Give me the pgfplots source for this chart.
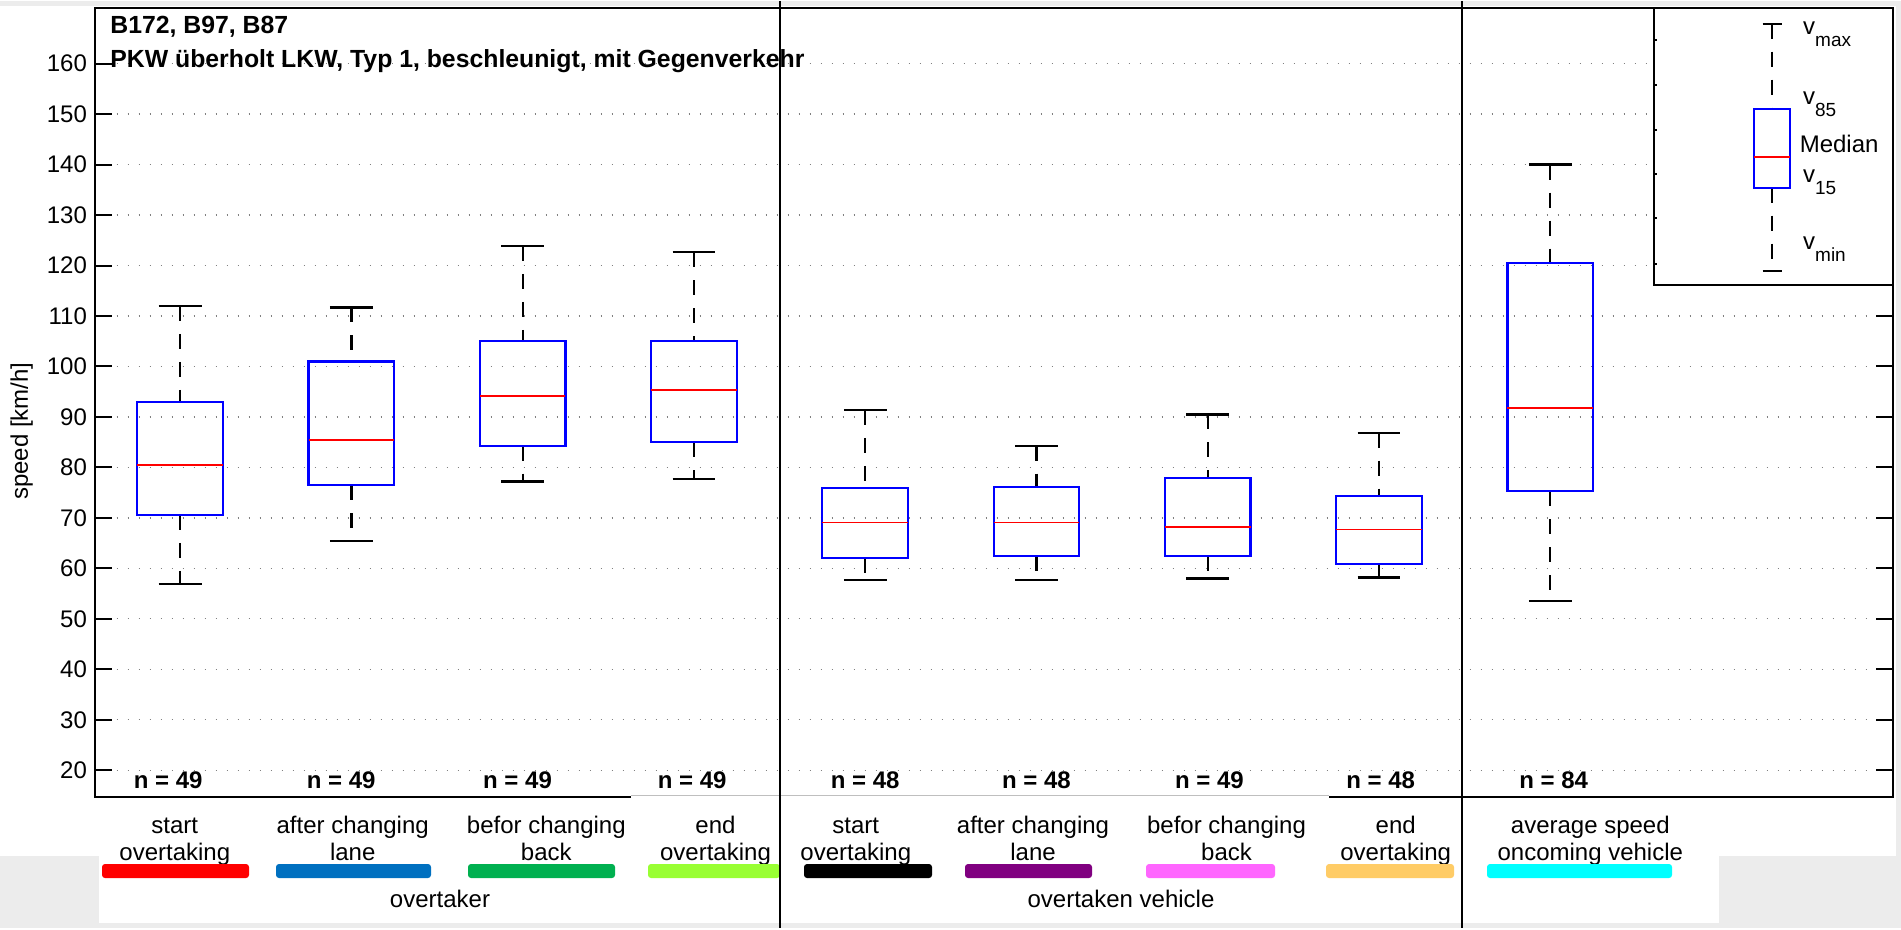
\documentclass[border=0pt]{standalone}
\usepackage{fontspec}
\setmainfont{Liberation Sans}
\usepackage{pgfplots}
\pgfplotsset{compat=1.18}
\usepgfplotslibrary{statistics}

\definecolor{figgray}{RGB}{236,236,236}
\definecolor{boxblue}{RGB}{0,0,255}
\definecolor{medred}{RGB}{255,0,0}
\definecolor{cRed}{RGB}{255,0,0}
\definecolor{cBlue}{RGB}{0,112,192}
\definecolor{cGreen}{RGB}{0,176,80}
\definecolor{cLime}{RGB}{153,255,51}
\definecolor{cBlack}{RGB}{0,0,0}
\definecolor{cPurple}{RGB}{128,0,128}
\definecolor{cPink}{RGB}{255,102,255}
\definecolor{cOrange}{RGB}{255,204,102}
\definecolor{cCyan}{RGB}{0,255,255}

\newcommand\fs{\fontsize{12bp}{14bp}\selectfont}
\newcommand\vsub[1]{v\raisebox{-6bp}{\fontsize{9.5bp}{10bp}\selectfont #1}}

\tikzset{
  bxstem/.style={black, line width=1.1bp, dash pattern=on 7.5bp off 6.5bp},
  bxcap/.style={black, line width=1.1bp, solid},
}

% vertical boxes; whiskers: dashed stem, solid end cap
\pgfplotsset{
  boxplot/draw direction=y,
  boxplot/draw/lower whisker/.code={%
    \draw[bxstem]
      (boxplot box cs:\pgfplotsboxplotvalue{lower quartile},0.5) --
      (boxplot box cs:\pgfplotsboxplotvalue{lower whisker},0.5);
    \draw[bxcap]
      (boxplot whisker cs:\pgfplotsboxplotvalue{lower whisker},0) --
      (boxplot whisker cs:\pgfplotsboxplotvalue{lower whisker},1);
  },
  boxplot/draw/upper whisker/.code={%
    \draw[bxstem]
      (boxplot box cs:\pgfplotsboxplotvalue{upper whisker},0.5) --
      (boxplot box cs:\pgfplotsboxplotvalue{upper quartile},0.5);
    \draw[bxcap]
      (boxplot whisker cs:\pgfplotsboxplotvalue{upper whisker},0) --
      (boxplot whisker cs:\pgfplotsboxplotvalue{upper whisker},1);
  },
  boxplot/every median/.style={draw=medred, line width=0.9bp},
}

% position, v_min, v_15, median, v_85, v_max
\newcommand\speedbox[6]{%
  \addplot[boxblue, line width=1.1bp, boxplot prepared={draw position=#1,
    lower whisker=#2, lower quartile=#3, median=#4,
    upper quartile=#5, upper whisker=#6,
    box extend=0.5, whisker extend=0.25}] coordinates {};}

\begin{document}
\begin{tikzpicture}
\begin{scope}[x=0.5bp,y=-0.5bp]
  \useasboundingbox (0,0) rectangle (1901,927);
  \fill[figgray] (0,0) rectangle (1901,927);
  \fill[white] (0,5) rectangle (1896,855);
  \fill[white] (99,855) rectangle (1719,922);
\end{scope}

\begin{axis}[
  at={(47.25bp,-398bp)}, anchor=south west,
  scale only axis, width=899.1bp, height=394.65bp,
  xmin=0.5, xmax=11, ymin=14.71, ymax=171.07,
  xtick=\empty,
  ytick={20,30,...,160},
  ytick pos=both, tick align=inside, major tick length=8.5bp,
  tick style={black, line width=1bp},
  axis line style={line width=1bp},
  ymajorgrids,
  major grid style={gray, line width=0.6bp, dash pattern=on 0.6bp off 4.9bp},
  tick label style={font=\fs},
  /pgf/number format/assume math mode=true,
  yticklabel style={inner sep=0pt, xshift=-3.6bp},
]
\speedbox{1}{56.9}{70.6}{80.5}{93.0}{112.0}
\speedbox{2}{65.4}{76.5}{85.5}{101.0}{111.7}
\speedbox{3}{77.2}{84.3}{94.2}{105.1}{123.9}
\speedbox{4}{77.7}{85.0}{95.4}{105.1}{122.6}
\speedbox{5}{57.7}{62.0}{69.1}{76.0}{91.4}
\speedbox{6}{57.7}{62.5}{69.1}{76.2}{84.3}
\speedbox{7}{58.0}{62.5}{68.2}{77.9}{90.5}
\speedbox{8}{58.2}{60.8}{67.7}{74.3}{86.9}
\speedbox{9}{53.5}{75.3}{91.8}{120.5}{140.0}

\node[font=\fs\bfseries] at (axis cs:0.93,18) {n = 49};
\node[font=\fs\bfseries] at (axis cs:1.94,18) {n = 49};
\node[font=\fs\bfseries] at (axis cs:2.97,18) {n = 49};
\node[font=\fs\bfseries] at (axis cs:3.99,18) {n = 49};
\node[font=\fs\bfseries] at (axis cs:5.00,18) {n = 48};
\node[font=\fs\bfseries] at (axis cs:6.00,18) {n = 48};
\node[font=\fs\bfseries] at (axis cs:7.01,18) {n = 49};
\node[font=\fs\bfseries] at (axis cs:8.01,18) {n = 48};
\node[font=\fs\bfseries] at (axis cs:9.02,18) {n = 84};
\end{axis}

% key explaining the box symbols
\begin{axis}[
  at={(827bp,-142bp)}, anchor=south west,
  scale only axis, width=119.35bp, height=138.65bp,
  xmin=0, xmax=238.7, ymin=0, ymax=277.3,
  axis background/.style={fill=white},
  xtick=\empty, ytick={21,67,111,155,200,245}, yticklabels={},
  ytick pos=left, tick align=inside, major tick length=1.5bp,
  axis line style={line width=1bp}, tick style={black, line width=1bp},
]
\addplot[boxblue, line width=1.1bp, boxplot prepared={draw position=118,
  lower whisker=14, lower quartile=97.3, median=127.7,
  upper quartile=176.3, upper whisker=261.3,
  box extend=36, whisker extend=19}] coordinates {};
\node[anchor=base west, font=\fs, inner sep=0pt] at (axis cs:148.7,250.7) {\vsub{max}};
\node[anchor=base west, font=\fs, inner sep=0pt] at (axis cs:148.7,180.7) {\vsub{85}};
\node[anchor=base west, font=\fs, inner sep=0pt] at (axis cs:145.3,132.3) {Median};
\node[anchor=base west, font=\fs, inner sep=0pt] at (axis cs:148.7,102.3) {\vsub{15}};
\node[anchor=base west, font=\fs, inner sep=0pt] at (axis cs:148.7,35.7) {\vsub{min}};
\end{axis}

\begin{scope}[x=0.5bp,y=-0.5bp]
  % faint stretch of the lower frame
  \draw[white, line width=1.2bp] (631,796) -- (1329,796);
  \draw[gray!50, line width=0.6bp] (631,794.8) -- (1329,794.8);
  % group separators
  \draw[black, line width=1bp] (780,0) -- (780,927);
  \draw[black, line width=1bp] (1462,0) -- (1462,927);
  % title
  \node[font=\fontsize{12.4bp}{14bp}\selectfont\bfseries, anchor=base west, inner sep=0pt] at (110,32.6) {B172, B97, B87};
  \node[font=\fontsize{12.4bp}{14bp}\selectfont\bfseries, anchor=base west, inner sep=0pt] at (110,66.3) {PKW überholt LKW, Typ 1, beschleunigt, mit Gegenverkehr};
  % y label
  \node[font=\fs, rotate=90, inner sep=0pt] at (21.7,430) {speed [km/h]};
  % category labels
  \foreach \px/\la/\lb in {174.8/start/overtaking, 352.7/after changing/lane,
      546.3/befor changing/back, 715.5/end/overtaking, 855.8/start/overtaking,
      1033/after changing/lane, 1226.5/befor changing/back, 1395.7/end/overtaking,
      1590.3/average speed/oncoming vehicle} {
    \node[font=\fs, anchor=base, inner sep=0pt] at (\px,832) {\la};
    \node[font=\fs, anchor=base, inner sep=0pt] at (\px,859) {\lb};
  }
  % colour codes
  \foreach \xa/\xb/\c in {102/249/cRed, 276/431/cBlue, 468/615/cGreen,
      648/780/cLime, 804/932/cBlack, 965/1092/cPurple, 1146/1275/cPink,
      1326/1454/cOrange, 1487/1672/cCyan} {
    \fill[\c, rounded corners=1.5bp] (\xa,863) rectangle (\xb,877);
  }
  \draw[black, line width=1bp] (780,855) -- (780,927);
  \node[font=\fs, anchor=base, inner sep=0pt] at (440,906) {overtaker};
  \node[font=\fs, anchor=base, inner sep=0pt] at (1121,906) {overtaken vehicle};
\end{scope}
\end{tikzpicture}
\end{document}
